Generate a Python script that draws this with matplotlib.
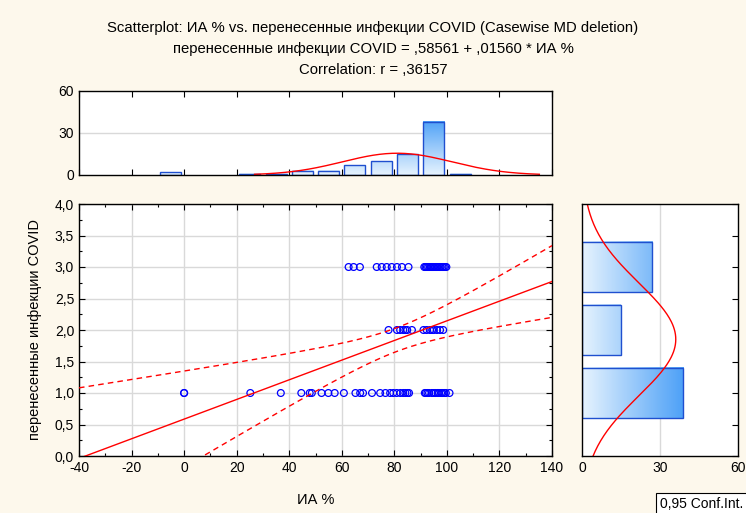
import numpy as np
import matplotlib
matplotlib.use('Agg')
from matplotlib import pyplot as plt
from matplotlib.colors import LinearSegmentedColormap, Normalize
from matplotlib.patches import Rectangle
from matplotlib.ticker import FuncFormatter, MultipleLocator

plt.rcParams['font.family'] = ['Liberation Sans', 'DejaVu Sans']
plt.rcParams['axes.unicode_minus'] = False

# ИА % для каждой группы перенесенных инфекций
ia_1 = [0, 0, 25.2, 36.8, 44.6, 47.8, 48.6, 52.3, 54.9, 57.3,
        60.8, 65.2, 67.0, 68.1, 71.5, 74.6, 76.6, 78.4, 79.6,
        80.9, 82.3, 83.4, 84.2, 85.0, 85.6,
        91.6, 92.0, 92.6, 93.2, 94.3, 95.1, 95.7, 96.5, 97.0, 97.8,
        98.3, 99.0, 99.6, 101.0]
ia_2 = [77.8, 81.0, 82.2, 83.4, 84.2, 84.9, 86.7,
        91.1, 92.3, 93.6, 94.4, 95.0, 96.2, 97.4, 98.6]
ia_3 = [62.6, 64.5, 66.9, 73.3, 75.2, 77.1, 79.0, 81.0, 82.9, 85.4,
        91.4, 91.9, 92.4, 92.9, 93.5, 94.0, 94.5, 95.0, 95.6, 96.1,
        96.6, 97.2, 97.7, 98.3, 98.8, 99.3, 99.8]

# гистограмма ИА % (интервалы по 10)
hist_x_centers = [-5, 25, 35, 45, 55, 65, 75, 85, 95, 105]
hist_x_counts = [2, 1, 1, 3, 3, 7, 10, 15, 38, 1]
# гистограмма перенесенных инфекций
hist_y_levels = [1, 2, 3]
hist_y_counts = [39, 15, 27]

intercept = 0.58561
slope = 0.01560
r_value = 0.36157

x = np.array(ia_1 + ia_2 + ia_3, dtype=float)
y = np.array([1] * len(ia_1) + [2] * len(ia_2) + [3] * len(ia_3), dtype=float)
n = len(x)

bg = '#fdf8ec'
edge = '#1f4fcf'
bar_cmap = LinearSegmentedColormap.from_list('bars', ['#e6f3fe', '#4a9ff7'])
bar_norm = Normalize(0, 40)


def fmt_comma(v, pos):
    return ('%.1f' % v).replace('.', ',')


def gradient_bar(ax, x0, x1, y0, y1, horizontal):
    if horizontal:
        vals = np.linspace(x0, x1, 64)[None, :]
    else:
        vals = np.linspace(y0, y1, 64)[:, None]
    ax.imshow(vals, cmap=bar_cmap, norm=bar_norm, extent=(x0, x1, y0, y1),
              origin='lower', aspect='auto', interpolation='bilinear', zorder=1.2)
    ax.add_patch(Rectangle((x0, y0), x1 - x0, y1 - y0, fill=False,
                           edgecolor=edge, lw=1.0, zorder=1.4))


def style_ticks(ax):
    ax.tick_params(which='both', direction='in', top=True, right=True,
                   labelsize=10, colors='black', length=4, width=0.8)
    ax.tick_params(which='minor', length=2)
    for s in ax.spines.values():
        s.set_linewidth(1.0)
        s.set_color('black')


fig = plt.figure(figsize=(7.46, 5.13), dpi=100, facecolor=bg)
W, H = 746, 513


def box(l, t, r, b):
    return [l / W, 1 - b / H, (r - l) / W, (b - t) / H]


ax = fig.add_axes(box(79, 204, 552, 456))
ax_top = fig.add_axes(box(79, 91, 552, 175))
ax_right = fig.add_axes(box(582, 204, 738, 456))

# основная диаграмма рассеяния
ax.set_xlim(-40, 140)
ax.set_ylim(0, 4)
ax.xaxis.set_major_locator(MultipleLocator(20))
ax.xaxis.set_minor_locator(MultipleLocator(10))
ax.yaxis.set_major_locator(MultipleLocator(0.5))
ax.yaxis.set_minor_locator(MultipleLocator(0.25))
ax.yaxis.set_major_formatter(FuncFormatter(fmt_comma))
ax.grid(True, which='major', color='#d9d9d9', lw=1.0)
ax.set_axisbelow(True)
style_ticks(ax)

ax.scatter(x, y, s=24, facecolors='none', edgecolors='#0000ff', linewidths=0.9, zorder=4)

xs = np.linspace(-40, 140, 200)
yhat = intercept + slope * xs
resid = y - (intercept + slope * x)
s_err = np.sqrt(np.sum(resid ** 2) / (n - 2))
sxx = np.sum((x - x.mean()) ** 2)
t_crit = 1.9905
half = t_crit * s_err * np.sqrt(1.0 / n + (xs - x.mean()) ** 2 / sxx)
ax.plot(xs, yhat, color='red', lw=1.0, zorder=5)
ax.plot(xs, yhat + half, color='red', lw=1.0, ls=(0, (4, 3)), zorder=5)
ax.plot(xs, yhat - half, color='red', lw=1.0, ls=(0, (4, 3)), zorder=5)

ax.set_xlabel('ИА %', fontsize=10.5, labelpad=13)
ax.set_ylabel('перенесенные инфекции COVID', fontsize=10.5, labelpad=9)

# гистограмма сверху
ax_top.set_xlim(-40, 140)
ax_top.set_ylim(0, 60)
ax_top.xaxis.set_major_locator(MultipleLocator(20))
ax_top.set_yticks([0, 30, 60])
ax_top.tick_params(labelbottom=False)
ax_top.axhline(30, color='#d9d9d9', lw=1.0, zorder=1)
style_ticks(ax_top)
ax_top.tick_params(axis='y', left=False, right=False)
for c, k in zip(hist_x_centers, hist_x_counts):
    gradient_bar(ax_top, c - 4, c + 4, 0, k, horizontal=False)
ax_top.set_xlim(-40, 140)
ax_top.set_ylim(0, 60)
gx = np.linspace(-40, 140, 300)
mx, sx = x.mean(), x.std(ddof=1)
gx_curve = n * 10 * np.exp(-0.5 * ((gx - mx) / sx) ** 2) / (sx * np.sqrt(2 * np.pi))
# хвосты, слившиеся с осью, не рисуем
gx_curve = np.where(gx_curve < 0.5, np.nan, gx_curve)
ax_top.plot(gx, gx_curve, color='red', lw=1.0, zorder=2)

# гистограмма справа
ax_right.set_xlim(0, 60)
ax_right.set_ylim(0, 4)
ax_right.set_xticks([0, 30, 60])
ax_right.yaxis.set_major_locator(MultipleLocator(0.5))
ax_right.tick_params(labelleft=False)
ax_right.axvline(30, color='#d9d9d9', lw=1.0, zorder=1)
style_ticks(ax_right)
ax_right.tick_params(axis='y', left=False)
ax_right.tick_params(axis='x', top=False, bottom=False)
for lv, k in zip(hist_y_levels, hist_y_counts):
    gradient_bar(ax_right, 0, k, lv - 0.4, lv + 0.4, horizontal=True)
ax_right.set_xlim(0, 60)
ax_right.set_ylim(0, 4)
gy = np.linspace(0, 4, 200)
my, sy = y.mean(), y.std(ddof=1)
ax_right.plot(n * 1 * np.exp(-0.5 * ((gy - my) / sy) ** 2) / (sy * np.sqrt(2 * np.pi)), gy,
              color='red', lw=1.0, zorder=2)

# заголовок
title_x = 0.5
fig.text(title_x, 1 - 28 / H, 'Scatterplot: ИА % vs. перенесенные инфекции COVID (Casewise MD deletion)',
         ha='center', va='center', fontsize=10.7)
fig.text(title_x, 1 - 49 / H, 'перенесенные инфекции COVID = ,58561 + ,01560 * ИА %',
         ha='center', va='center', fontsize=10.7)
fig.text(title_x, 1 - 70 / H, 'Correlation: r = ,36157',
         ha='center', va='center', fontsize=10.7)

fig.text(660 / W, 1 - 504 / H, '0,95 Conf.Int.', ha='left', va='center', fontsize=10,
         bbox=dict(boxstyle='square,pad=0.3', facecolor='white', edgecolor='black', lw=0.8))

fig.savefig('out.png', dpi=100, facecolor=bg)
